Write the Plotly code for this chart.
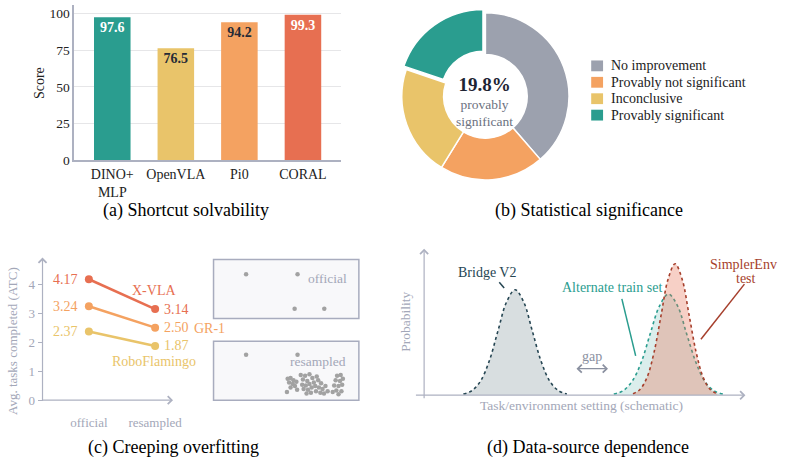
import plotly.graph_objects as go

W, H = 791, 474
def fx(p): return p / W
def fy(p): return 1 - p / H

FONT = "Liberation Serif"
GRAY_AX = "#adb1c1"
GRAY_TXT = "#a3a7b8"

# ---------------- data ----------------
# (a) Shortcut solvability
models_a = ["DINO+<br>MLP", "OpenVLA", "Pi0", "CORAL"]
scores_a = [97.6, 76.5, 94.2, 99.3]
colors_a = ["#2a9d8f", "#e9c46a", "#f4a261", "#e76f51"]
label_colors_a = ["#ffffff", "#262b36", "#262b36", "#ffffff"]

# (b) Statistical significance
sig_labels = ["No improvement", "Provably not significant", "Inconclusive", "Provably significant"]
sig_values = [38.6, 20.2, 21.4, 19.8]
sig_colors = ["#9ca1ae", "#f4a261", "#e9c46a", "#2a9d8f"]
sig_pull = [0, 0, 0, 0.05]

# (c) Creeping overfitting
settings_c = ["official", "resampled"]
series_c = ["X-VLA", "GR-1", "RoboFlamingo"]
atc_official = [4.17, 3.24, 2.37]
atc_resampled = [3.14, 2.50, 1.87]
colors_c = ["#e76f51", "#f4a261", "#e9c46a"]

box_official_x = [2.24, 5.78, 5.58, 7.62]
box_official_y = [3.0, 3.0, 0.67, 0.67]
box_resampled_x = [2.24, 5.78,
                   5.1, 5.3, 5.5, 5.2, 5.45, 5.7, 5.6, 5.3, 5.05, 5.75,
                   6.0, 6.3, 6.6, 6.15, 6.45, 6.8, 6.1, 6.35, 6.6, 6.9, 6.2, 6.5, 6.75, 7.0, 6.4, 6.7, 7.05,
                   7.2, 7.4, 7.25, 7.5, 7.7, 7.35, 7.6, 7.85, 7.1,
                   8.5, 8.75, 8.4, 8.7, 8.9, 8.3, 8.6, 8.85, 8.45, 8.8, 8.6, 8.2]
box_resampled_y = [3.07, 3.07,
                   1.45, 1.5, 1.35, 1.2, 1.1, 1.25, 0.95, 0.85, 0.55, 0.7,
                   1.7, 1.65, 1.75, 1.4, 1.3, 1.5, 1.05, 1.0, 1.1, 1.2, 0.75, 0.7, 0.85, 0.95, 0.45, 0.5, 0.6,
                   1.35, 1.15, 0.85, 0.75, 0.95, 0.5, 0.45, 0.6, 1.6,
                   1.65, 1.7, 1.35, 1.3, 1.45, 1.0, 0.95, 1.05, 0.65, 0.6, 0.4, 0.55]

# (d) Data-source dependence (schematic curves)
bridge_x = [1.23, 1.50, 1.77, 2.04, 2.31, 2.58, 2.85, 3.12, 3.39, 3.66, 3.93, 4.20, 4.47]
bridge_y = [0.008, 0.032, 0.099, 0.237, 0.443, 0.644, 0.73, 0.644, 0.443, 0.237, 0.099, 0.032, 0.008]
alt_x = [5.94, 6.23, 6.51, 6.80, 7.08, 7.37, 7.65, 7.94, 8.22, 8.51, 8.79, 9.08, 9.36]
alt_y = [0.008, 0.031, 0.095, 0.228, 0.425, 0.617, 0.70, 0.617, 0.425, 0.228, 0.095, 0.031, 0.008]
simp_x = [6.54, 6.76, 6.98, 7.20, 7.42, 7.64, 7.86, 8.08, 8.30, 8.52, 8.74, 8.96, 9.18]
simp_y = [0.010, 0.040, 0.123, 0.296, 0.552, 0.803, 0.91, 0.803, 0.552, 0.296, 0.123, 0.040, 0.010]

fig = go.Figure()

# ---------------- (a) bars ----------------
fig.add_trace(go.Bar(
    x=models_a, y=scores_a, marker=dict(color=colors_a, line=dict(width=0)),
    width=0.575, texttemplate="<b>%{y:.1f}</b>", textposition="inside",
    insidetextanchor="end", textangle=0, constraintext="none",
    textfont=dict(family=FONT, size=14, color=label_colors_a),
    xaxis="x", yaxis="y", hoverinfo="skip", showlegend=False))

# ---------------- (b) donut ----------------
R = 85 * 1.05
fig.add_trace(go.Pie(
    labels=sig_labels, values=sig_values, sort=False, direction="clockwise",
    rotation=0, hole=0.5, pull=sig_pull, textinfo="none", hoverinfo="skip",
    marker=dict(colors=sig_colors, line=dict(color="white", width=1.5)),
    domain=dict(x=[fx(491 - R), fx(491 + R)], y=[fy(98 + R), fy(98 - R)]),
    showlegend=False))

# ---------------- (c) lines ----------------
annotations = []
for name, o, r, c in zip(series_c, atc_official, atc_resampled, colors_c):
    fig.add_trace(go.Scatter(
        x=[0, 1], y=[o, r], mode="lines+markers",
        line=dict(color=c, width=2.5), marker=dict(color=c, size=8),
        cliponaxis=False, xaxis="x2", yaxis="y2", hoverinfo="skip", showlegend=False))
    annotations.append(dict(x=0, y=o, xref="x2", yref="y2", text=f"{o:.2f}", showarrow=False,
                            xanchor="right", xshift=-9, font=dict(family=FONT, size=14, color=c)))
    annotations.append(dict(x=1, y=r, xref="x2", yref="y2", text=f"{r:.2f}", showarrow=False,
                            xanchor="left", xshift=7, font=dict(family=FONT, size=14, color=c)))

fig.add_trace(go.Scatter(x=box_official_x, y=box_official_y, mode="markers",
                         marker=dict(color="#a2a2a2", size=4.5), xaxis="x3", yaxis="y3",
                         hoverinfo="skip", showlegend=False))
fig.add_trace(go.Scatter(x=box_resampled_x, y=box_resampled_y, mode="markers",
                         marker=dict(color="#a2a2a2", size=4.5), xaxis="x4", yaxis="y4",
                         hoverinfo="skip", showlegend=False))

# ---------------- (d) distributions ----------------
fig.add_trace(go.Scatter(x=bridge_x, y=bridge_y, mode="lines", line=dict(color="#264653", width=1.6, dash="dot", shape="spline"),
                         fill="tozeroy", fillcolor="rgba(38,70,83,0.18)", xaxis="x5", yaxis="y5",
                         hoverinfo="skip", showlegend=False))
fig.add_trace(go.Scatter(x=alt_x, y=alt_y, mode="lines", line=dict(color="#2a9d8f", width=1.6, dash="dot", shape="spline"),
                         fill="tozeroy", fillcolor="rgba(42,157,143,0.17)", xaxis="x5", yaxis="y5",
                         hoverinfo="skip", showlegend=False))
fig.add_trace(go.Scatter(x=simp_x, y=simp_y, mode="lines", line=dict(color="#a63f2c", width=1.6, dash="dot", shape="spline"),
                         fill="tozeroy", fillcolor="rgba(231,111,81,0.33)", xaxis="x5", yaxis="y5",
                         hoverinfo="skip", showlegend=False))

shapes = []

def text(x, y, s, size=14, color="#222", xanchor="center", yanchor="middle", angle=0):
    annotations.append(dict(x=fx(x), y=fy(y), xref="paper", yref="paper", text=s, showarrow=False,
                            font=dict(family=FONT, size=size, color=color), xanchor=xanchor,
                            yanchor=yanchor, textangle=angle))

def arrow(x0, y0, x1, y1, color=GRAY_AX, both=False, width=1.2):
    annotations.append(dict(x=fx(x1), y=fy(y1), xref="paper", yref="paper", ax=x0 - x1, ay=y0 - y1,
                            axref="pixel", ayref="pixel", text="", showarrow=True, arrowhead=4,
                            startarrowhead=4, arrowside="end+start" if both else "end",
                            arrowsize=1.3, startarrowsize=1.3, arrowwidth=width, arrowcolor=color, standoff=0, startstandoff=0))

def line(x0, y0, x1, y1, color, width=1.5):
    shapes.append(dict(type="line", xref="paper", yref="paper", x0=fx(x0), y0=fy(y0), x1=fx(x1), y1=fy(y1),
                       line=dict(color=color, width=width)))

# (a) labels
text(40, 85, "Score", size=14, angle=-90)
text(188, 214, "(a) Shortcut solvability", size=18, color="#000")

# (b) center text + legend
text(490, 103.5,
     "<span style='font-size:19px;color:#1d2433'><b>19.8%</b></span><br>provably<br>significant",
     size=13.5, color="#6b7180")
for i, (lab, col) in enumerate(zip(sig_labels, sig_colors)):
    yc = 67 + i * 16.7
    shapes.append(dict(type="rect", xref="paper", yref="paper", x0=fx(598), x1=fx(610),
                       y0=fy(yc + 5.5), y1=fy(yc - 5.5), fillcolor=col, line=dict(width=0)))
    text(616, yc, lab, size=14, color="#222", xanchor="left")
text(596, 214, "(b) Statistical significance", size=18, color="#000")

# (c) axes, labels, boxes
arrow(43, 407, 43, 262)
arrow(43, 407, 175, 407)
text(12, 347, "Avg. tasks completed (ATC)", size=13, color=GRAY_TXT, angle=-90)
text(156, 295, "X-VLA", size=14, color=colors_c[0])
text(212, 334, "GR-1", size=14, color=colors_c[1])
text(156, 368, "RoboFlamingo", size=14, color=colors_c[2])
for (y0, y1) in [(264, 324), (347, 407)]:
    shapes.append(dict(type="rect", xref="paper", yref="paper", x0=fx(216), x1=fx(363), y0=fy(y1), y1=fy(y0),
                       fillcolor="#f8f8fa", line=dict(color="#a8acbe", width=1.5), layer="below"))
text(331, 283, "official", size=13.5, color=GRAY_TXT)
text(322, 368, "resampled", size=13.5, color=GRAY_TXT)
text(176, 455, "(c) Creeping overfitting", size=18, color="#000")

# (d) axes, labels
arrow(429, 404, 429, 253)
arrow(423, 402, 754, 402)
text(410, 327, "Probability", size=13.5, color=GRAY_TXT, angle=-90)
text(588, 412, "Task/environment setting (schematic)", size=13.5, color=GRAY_TXT)
text(493, 277, "Bridge V2", size=14, color="#264653")
line(505, 287, 510, 293, "#264653")
text(619, 292, "Alternate train set", size=14, color="#2a9d8f")
line(629, 304, 643, 362, "#2a9d8f")
text(752, 269, "SimplerEnv", size=14, color="#a63f2c")
text(755, 283, "test", size=14, color="#a63f2c")
line(753, 289, 709, 345, "#a63f2c")
text(599, 363, "gap", size=14, color="#8a90a0")
arrow(582, 375, 615, 375, color="#8a90a0", both=True)
text(595, 455, "(d) Data-source dependence", size=18, color="#000")

hidden = dict(visible=False, fixedrange=True)

fig.update_layout(
    width=W, height=H, margin=dict(l=0, r=0, t=0, b=0),
    paper_bgcolor="white", plot_bgcolor="white",
    font=dict(family=FONT, size=13, color="#222"),
    showlegend=False,
    xaxis=dict(domain=[fx(75), fx(345)], range=[-0.6, 3.6], anchor="y", showline=True, linecolor=GRAY_AX,
               linewidth=1.5, ticks="", tickfont=dict(size=14, color="#222"), showgrid=False),
    yaxis=dict(domain=[fy(163), fy(5)], range=[0, 106], anchor="x", showline=True, linecolor=GRAY_AX,
               linewidth=1.5, tickvals=[0, 25, 50, 75, 100], ticks="", showgrid=True, gridcolor="#e6e6e8",
               tickfont=dict(size=13.5, color="#222"), zeroline=False),
    xaxis2=dict(domain=[fx(43), fx(175)], range=[-0.70, 1.27], anchor="y2", tickvals=[0, 1], ticktext=settings_c,
                showline=False, showgrid=False, zeroline=False, ticks="", ticklabelstandoff=13,
                tickfont=dict(size=13, color=GRAY_TXT)),
    yaxis2=dict(domain=[fy(407), fy(264)], range=[0, 4.85], anchor="x2", tickvals=[0, 1, 2, 3, 4],
                showline=False, showgrid=False, zeroline=False, ticks="outside", ticklen=4, tickcolor=GRAY_AX,
                tickfont=dict(size=13, color=GRAY_TXT)),
    xaxis3=dict(domain=[fx(216), fx(363)], range=[0, 10], anchor="y3", **hidden),
    yaxis3=dict(domain=[fy(324), fy(264)], range=[0, 4], anchor="x3", **hidden),
    xaxis4=dict(domain=[fx(216), fx(363)], range=[0, 10], anchor="y4", **hidden),
    yaxis4=dict(domain=[fy(407), fy(347)], range=[0, 4], anchor="x4", **hidden),
    xaxis5=dict(domain=[fx(429), fx(752)], range=[0, 10], anchor="y5", **hidden),
    yaxis5=dict(domain=[fy(402), fy(255)], range=[0, 1], anchor="x5", **hidden),
    shapes=shapes, annotations=annotations,
)

fig.write_html("out.html")
